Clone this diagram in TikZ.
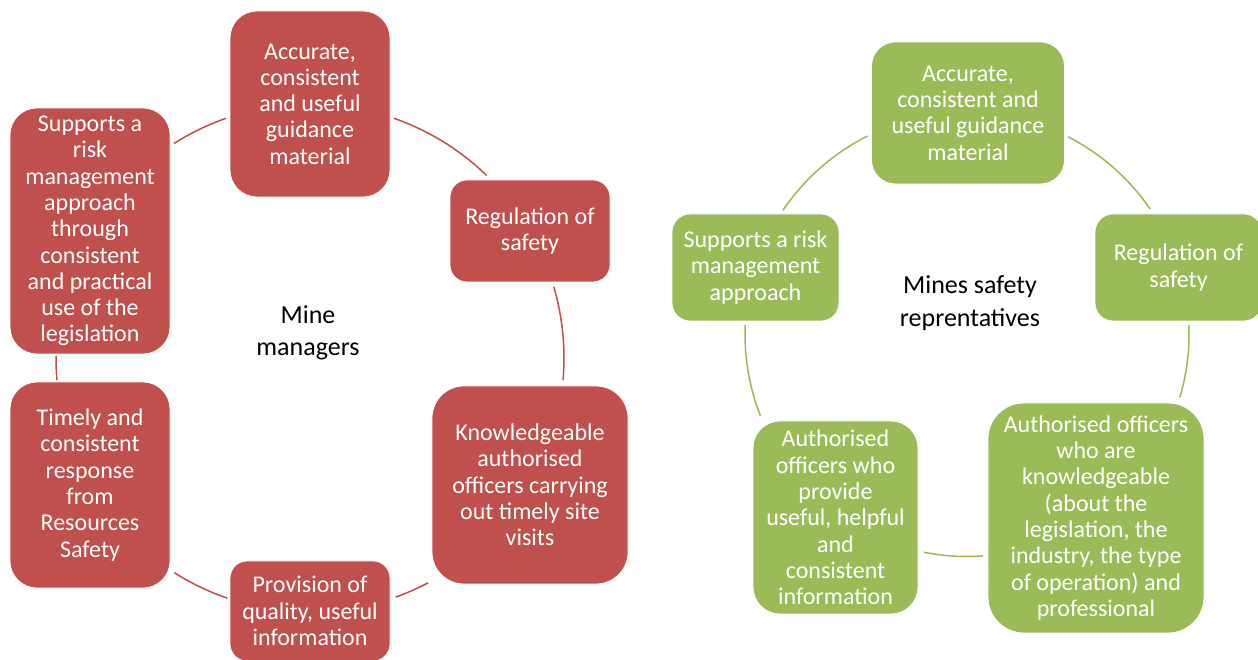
\documentclass[tikz,border=0pt]{standalone}
\usepackage{fontspec}
\setmainfont{Carlito}
\usetikzlibrary{calc}
\definecolor{redbox}{HTML}{C0504D}
\definecolor{greenbox}{HTML}{9BBB59}
\begin{document}
\begin{tikzpicture}[x=1pt,y=1pt,
  box/.style={draw=white, line width=0.8pt, text=white, align=center, inner sep=0pt,
    font=\fontsize{24}{26.3}\selectfont},
  rbox/.style={box, fill=redbox},
  gbox/.style={box, fill=greenbox},
  rline/.style={draw=redbox, line width=1.5pt},
  gline/.style={draw=greenbox, line width=1.5pt},
  title/.style={align=center, text=black, font=\fontsize{26}{32.5}\selectfont}
]
\clip (0,0) rectangle (1258,660);
\fill[white] (0,0) rectangle (1258,660);

% ---------- left cycle ----------
\coordinate (Lc) at (310,302);
\node[rbox, minimum width=160pt, minimum height=186pt, rounded corners=27pt] (A1) at (310,556)
  {Accurate,\\consistent\\and useful\\guidance\\material};
\node[rbox, minimum width=160pt, minimum height=102pt, rounded corners=17pt] (A2) at (530,429)
  {Regulation of\\safety};
\node[rbox, minimum width=196pt, minimum height=198pt, rounded corners=32pt] (A3) at (530,175)
  {Knowledgeable\\authorised\\officers carrying\\out timely site\\visits};
\node[rbox, minimum width=160pt, minimum height=100pt, rounded corners=17pt] (A4) at (310,49)
  {Provision of\\quality, useful\\information};
\node[rbox, minimum width=160pt, minimum height=206pt, rounded corners=27pt] (A5) at (90,175)
  {Timely and\\consistent\\response\\from\\Resources\\Safety};
\node[rbox, minimum width=160pt, minimum height=246pt, rounded corners=27pt] (A6) at (90,429)
  {Supports a\\risk\\management\\approach\\through\\consistent\\and practical\\use of the\\legislation};
\node[title] (LT) at (308,327) {Mine\\managers};

\path (Lc) ++(70.7:254pt) coordinate (L12);
\path (Lc) ++(16.3:254pt) coordinate (L23);
\path (Lc) ++(-62.3:254pt) coordinate (L34);
\path (Lc) ++(-109:254pt) coordinate (L45);
\path (Lc) ++(-175:254pt) coordinate (L56);
\path (Lc) ++(122.4:254pt) coordinate (L61);
\draw[rline] (L12) arc[start angle=70.7, end angle=45.9, radius=254pt];
\draw[rline] (L23) arc[start angle=16.3, end angle=-5, radius=254pt];
\draw[rline] (L34) arc[start angle=-62.3, end angle=-70.3, radius=254pt];
\draw[rline] (L45) arc[start angle=-109, end angle=-122.3, radius=254pt];
\draw[rline] (L56) arc[start angle=-175, end angle=-180.5, radius=254pt];
\draw[rline] (L61) arc[start angle=122.4, end angle=109.3, radius=254pt];

% ---------- right cycle ----------
\coordinate (Rc) at (967,325.5);
\node[gbox, minimum width=193pt, minimum height=142pt, rounded corners=24pt] (B1) at (968,547)
  {Accurate,\\consistent and\\useful guidance\\material};
\node[gbox, minimum width=167pt, minimum height=107pt, rounded corners=18pt] (B2) at (1178.5,392.5)
  {Regulation of\\safety};
\node[gbox, minimum width=216pt, minimum height=230pt, rounded corners=36pt] (B3) at (1096,142)
  {Authorised officers\\who are\\knowledgeable\\(about the\\legislation, the\\industry, the type\\of operation) and\\professional};
\node[gbox, minimum width=165pt, minimum height=193pt, rounded corners=27pt] (B5) at (835.5,142.5)
  {Authorised\\officers who\\provide\\useful, helpful\\and\\consistent\\information};
\node[gbox, minimum width=167pt, minimum height=107pt, rounded corners=18pt] (B6) at (755.5,392.5)
  {Supports a risk\\management\\approach};
\node[title] (RT) at (970,357) {Mines safety\\reprentatives};

\path (Rc) ++(62.9:222pt) coordinate (R12);
\path (Rc) ++(2.4:222pt) coordinate (R23);
\path (Rc) ++(-85.9:222pt) coordinate (R35);
\path (Rc) ++(-158.5:222pt) coordinate (R56);
\path (Rc) ++(146:222pt) coordinate (R61);
\draw[gline] (R12) arc[start angle=62.9, end angle=34.4, radius=222pt];
\draw[gline] (R23) arc[start angle=2.4, end angle=-16.5, radius=222pt];
\draw[gline] (R35) arc[start angle=-85.9, end angle=-101.2, radius=222pt];
\draw[gline] (R56) arc[start angle=-158.5, end angle=-182.4, radius=222pt];
\draw[gline] (R61) arc[start angle=146, end angle=116.6, radius=222pt];
\end{tikzpicture}
\end{document}
